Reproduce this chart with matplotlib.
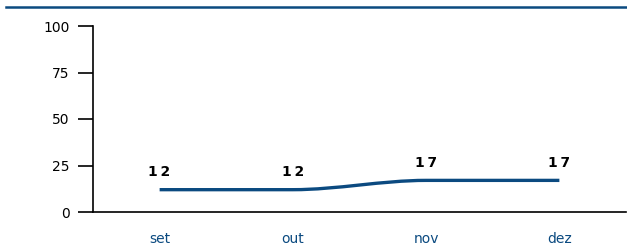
import matplotlib
matplotlib.use("Agg")
import matplotlib.pyplot as plt
from matplotlib.path import Path
from matplotlib.patches import PathPatch
from matplotlib.lines import Line2D

categories = ["set", "out", "nov", "dez"]
values = [12, 12, 17, 17]
yticks = [0, 25, 50, 75, 100]

BLUE = "#0b4a80"

fig = plt.figure(figsize=(6.27, 2.46), dpi=100)
ax = fig.add_axes([93/627, 1-212/246, 533/627, 186/246])

x = list(range(len(categories)))
# smooth (monotone) curve through the points using cubic Bezier segments
verts = [(x[0], values[0])]
codes = [Path.MOVETO]
n = len(values)
slopes = [values[i+1]-values[i] for i in range(n-1)]
tang = []
for i in range(n):
    if i == 0:
        t = slopes[0]
    elif i == n-1:
        t = slopes[-1]
    else:
        a, b = slopes[i-1], slopes[i]
        t = 0 if a*b <= 0 else 2*a*b/(a+b)
    tang.append(t)
for i in range(n-1):
    verts += [(x[i]+1/3, values[i]+tang[i]/3), (x[i+1]-1/3, values[i+1]-tang[i+1]/3), (x[i+1], values[i+1])]
    codes += [Path.CURVE4]*3
ax.add_patch(PathPatch(Path(verts, codes), facecolor="none", edgecolor=BLUE, lw=2.4, capstyle="butt"))

for xi, v in zip(x, values):
    ax.text(xi, v + 9.5, "\u2009".join(str(v)), ha="center", va="center",
            fontsize=10, fontweight="bold", color="black")

ax.set_xlim(-0.5, 3.5)
ax.set_ylim(0, 100)
ax.set_yticks(yticks)
ax.set_xticks(x)
ax.set_xticklabels(categories, color=BLUE, fontsize=10)
ax.tick_params(axis="x", length=0, pad=14.5)
ax.tick_params(axis="y", length=11, width=1.2, pad=6, labelsize=10, colors="black")
for s in ["top", "right"]:
    ax.spines[s].set_visible(False)
ax.spines["left"].set_linewidth(1.2)
ax.spines["bottom"].set_linewidth(1.2)

fig.add_artist(Line2D([6/627, 1.0], [1-7/246, 1-7/246], transform=fig.transFigure,
                      color=BLUE, lw=1.8))

fig.savefig("out.png", dpi=100)
